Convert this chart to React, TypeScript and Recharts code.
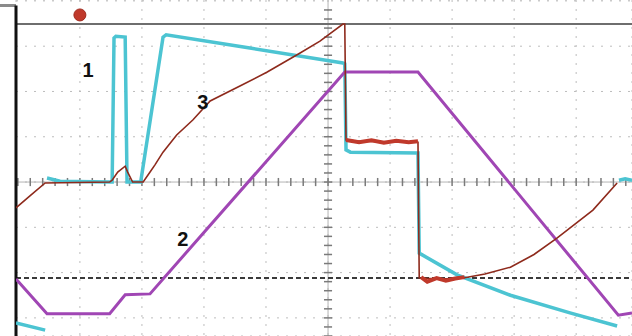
import {
  LineChart,
  Line,
  XAxis,
  YAxis,
  CartesianGrid,
  ReferenceLine,
  ReferenceDot,
} from "recharts";

// scope screen: x in divisions (grid every 1), y in divisions (centre = 0)
const gridX = [1, 2, 3, 4, 5, 6, 7, 8, 9];
const gridY = [-3, -2, -1, 0, 1, 2, 3, 4];

// trace 1 (cyan)
const cyanX = [-0.03, 0.44, 0.45, 0.47, 0.68, 1.48, 1.52, 1.55, 1.58, 1.73, 1.76, 1.98, 2.34, 2.39, 3.74, 5.24, 5.27, 5.29, 5.36, 6.45, 6.47, 7.08, 7.94, 8.9, 9.66, 9.67, 9.69, 9.79, 9.9];
const cyanY = [-3.11, -3.27, null, 0.09, 0.02, 0, 0, 3.18, 3.22, 3.2, 0, 0, 3.2, 3.25, 2.96, 2.63, 2.61, 0.71, 0.66, 0.64, -1.57, -2.05, -2.5, -2.89, -3.18, null, 0.04, 0.07, 0.04];

// trace 2 (purple)
const purpleX = [-0.03, 0.47, 1.48, 1.73, 2.13, 5.27, 6.45, 9.68, 9.9];
const purpleY = [-2.14, -2.91, -2.91, -2.49, -2.47, 2.43, 2.43, -2.94, -2.89];

// trace 3 (red)
const redX = [-0.03, 0.19, 0.44, 1.48, 1.52, 1.61, 1.73, 1.77, 1.85, 2.02, 2.12, 2.21, 2.34, 2.56, 2.82, 3.1, 3.58, 4.02, 4.55, 4.87, 5.24, 5.27, 5.29, 5.52, 6.45, 6.47, 6.81, 7.18, 7.53, 7.94, 8.32, 8.69, 9.27, 9.66];
const redY = [-0.57, -0.31, -0.02, 0, 0.04, 0.22, 0.35, 0.22, 0, 0, 0.2, 0.38, 0.66, 1.04, 1.37, 1.79, 2.12, 2.43, 2.85, 3.11, 3.49, 3.49, 0.93, 0.9, 0.88, -2.12, -2.14, -2.12, -2.03, -1.88, -1.6, -1.24, -0.62, -0.02];

// noisy stretches of trace 3
const redBandX = [5.29, 5.5, 5.7, 5.9, 6.1, 6.3, 6.45, 6.46, 6.5, 6.6, 6.75, 6.9, 7.05, 7.2];
const redBandY = [0.93, 0.88, 0.92, 0.87, 0.91, 0.88, 0.9, null, -2.1, -2.2, -2.12, -2.18, -2.13, -2.1];

const topLevel = 3.49;
const triggerLevel = -2.12;
const centreX = 5;
const minorX = Array.from({ length: 50 }, (_, i) => i * 0.2);
const minorY = Array.from({ length: 37 }, (_, i) => -3.4 + i * 0.2);

const toPoints = (xs: number[], ys: (number | null)[]) =>
  xs.map((x, i) => ({ x, y: ys[i] }));

const cyanData = toPoints(cyanX, cyanY);
const purpleData = toPoints(purpleX, purpleY);
const redData = toPoints(redX, redY);
const redBandData = toPoints(redBandX, redBandY);

const labelStyle = {
  fill: "#111",
  fontSize: 20,
  fontWeight: 700,
  fontFamily: "Liberation Sans, Arial, sans-serif",
};

export default function App() {
  return (
    <div
      style={{
        position: "absolute",
        left: 0,
        top: 0,
        width: 632,
        height: 336,
        background: "#fff",
        overflow: "hidden",
      }}
    >
      <div
        style={{
          position: "absolute",
          left: 0,
          top: 4,
          width: 16,
          height: 3,
          background: "#8a8a8a",
        }}
      />
      <LineChart
        width={632}
        height={336}
        margin={{ top: 0, right: 0, bottom: 0, left: 16 }}
      >
        <XAxis
          type="number"
          dataKey="x"
          domain={[-0.03, 9.9]}
          ticks={gridX}
          allowDataOverflow
          hide
        />
        <YAxis
          type="number"
          domain={[-3.4, 4.02]}
          ticks={gridY}
          allowDataOverflow
          hide
        />
        <CartesianGrid stroke="#bdbdbd" strokeDasharray="2 7" />
        <ReferenceLine y={0} stroke="#b5b5b5" strokeWidth={1} />
        <ReferenceLine x={centreX} stroke="#b5b5b5" strokeWidth={1} />
        {minorX.map((t) => (
          <ReferenceLine
            key={"mx" + t}
            segment={[
              { x: t, y: -0.09 },
              { x: t, y: 0.09 },
            ]}
            stroke="#7a7a7a"
            strokeWidth={1.5}
          />
        ))}
        {minorY.map((t) => (
          <ReferenceLine
            key={"my" + t}
            segment={[
              { x: centreX - 0.065, y: t },
              { x: centreX + 0.065, y: t },
            ]}
            stroke="#7a7a7a"
            strokeWidth={1.5}
          />
        ))}
        <ReferenceLine
          y={triggerLevel}
          stroke="#3a3a3a"
          strokeWidth={2}
          strokeDasharray="5 3"
        />
        <ReferenceLine y={topLevel} stroke="#6e6e6e" strokeWidth={2} />
        <ReferenceLine
          segment={[
            { x: -0.03, y: 3.9 },
            { x: -0.03, y: -3.4 },
          ]}
          stroke="#111"
          strokeWidth={3}
          ifOverflow="visible"
        />
        <ReferenceDot x={1.0} y={3.69} r={6} fill="#c0392b" stroke="#a02a1e" />
        <Line
          data={cyanData}
          dataKey="y"
          type="linear"
          stroke="#4cc4d2"
          strokeWidth={3.5}
          dot={false}
          isAnimationActive={false}
        />
        <Line
          data={purpleData}
          dataKey="y"
          type="linear"
          stroke="#a046b4"
          strokeWidth={3}
          dot={false}
          isAnimationActive={false}
        />
        <Line
          data={redData}
          dataKey="y"
          type="linear"
          stroke="#8e2a1c"
          strokeWidth={1.6}
          dot={false}
          isAnimationActive={false}
        />
        <Line
          data={redBandData}
          dataKey="y"
          type="linear"
          stroke="#c0392b"
          strokeWidth={4}
          dot={false}
          isAnimationActive={false}
        />
        <ReferenceDot x={1.13} y={2.47} r={0} label={{ value: "1", position: "center", ...labelStyle }} />
        <ReferenceDot x={2.98} y={1.77} r={0} label={{ value: "3", position: "center", ...labelStyle }} />
        <ReferenceDot x={2.66} y={-1.26} r={0} label={{ value: "2", position: "center", ...labelStyle }} />
      </LineChart>
    </div>
  );
}
